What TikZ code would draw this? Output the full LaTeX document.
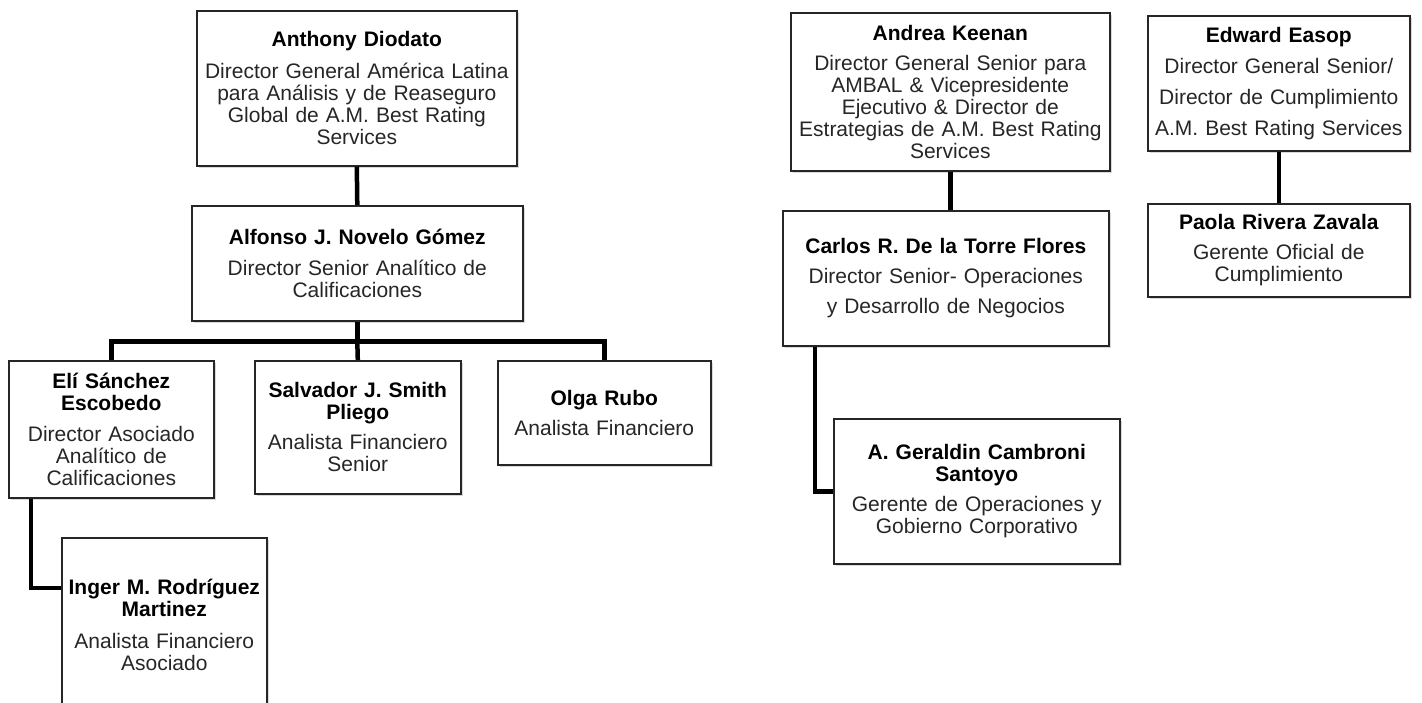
\documentclass[tikz,border=0pt]{standalone}
\usepackage{fontspec}
\setmainfont{Liberation Sans}
\usepackage{tikz}
\usetikzlibrary{positioning,shadows}
\tikzset{
every picture/.style={x=1pt,y=-1pt},
box/.style={rectangle, draw=black!85, line width=1.6pt, fill=white, text=black!85,
  anchor=north west, align=center, inner xsep=0pt, inner ysep=0pt,
  font=\fontsize{21}{22}\selectfont,
  drop shadow={shadow xshift=2pt, shadow yshift=-2pt, opacity=.3}},
link/.style={line width=4.5pt, black}
}
\newcommand{\who}[3][10pt]{\textbf{\color{black}#2}\\[#1]#3}

\begin{document}
\begin{tikzpicture}
\useasboundingbox (0,0) rectangle (1422,703);
%Nodes left
\node[box, text width=320pt, minimum height=155pt] (anthony) at (196,10)
  {\who{Anthony Diodato}{Director General América Latina\\para Análisis y de Reaseguro\\Global de A.M. Best Rating\\Services}};
\node[box, text width=331pt, minimum height=115pt] (alfonso) at (191,205)
  {\who[9pt]{Alfonso J. Novelo Gómez}{Director Senior Analítico de\\Calificaciones}};
\node[box, text width=205pt, minimum height=137pt] (eli) at (8,360)
  {\who[9pt]{Elí Sánchez\\Escobedo}{Director Asociado\\Analítico de\\Calificaciones}};
\node[box, text width=206pt, minimum height=133pt] (salvador) at (254,360)
  {\who[8pt]{Salvador J. Smith\\Pliego}{Analista Financiero\\Senior}};
\node[box, text width=213pt, minimum height=104pt] (olga) at (497,360)
  {\who[8pt]{Olga Rubo}{Analista Financiero}};
\node[box, text width=205pt, minimum height=175pt] (inger) at (61,537)
  {\who[10pt]{Inger M. Rodríguez\\Martinez}{Analista Financiero\\Asociado}};

%Nodes right
\node[box, text width=319pt, minimum height=158pt] (andrea) at (790,12)
  {\who[8pt]{Andrea Keenan}{Director General Senior para\\AMBAL \& Vicepresidente\\Ejecutivo \& Director de\\Estrategias de A.M. Best Rating\\Services}};
\node[box, text width=262pt, minimum height=135pt] (edward) at (1147,15)
  {\who[9pt]{Edward Easop}{Director General Senior/\\[9pt]Director de Cumplimiento\\[9pt]A.M. Best Rating Services}};
\node[box, text width=326pt, minimum height=135pt] (carlos) at (782,210)
  {\who[8pt]{Carlos R. De la Torre Flores}{Director Senior- Operaciones\\[8pt]y Desarrollo de Negocios}};
\node[box, text width=262pt, minimum height=93pt] (paola) at (1147,203)
  {\who[8pt]{Paola Rivera Zavala}{Gerente Oficial de\\Cumplimiento}};
\node[box, text width=286pt, minimum height=145pt] (geraldin) at (833,418)
  {\who[8pt]{A. Geraldin Cambroni\\Santoyo}{Gerente de Operaciones y\\Gobierno Corporativo}};

%Lines
\draw[link] (anthony.south) -- (alfonso.north);
\draw[link] (alfonso.south) -- ++(0,20) coordinate (bus);
\draw[link] (bus) -| (eli.north);
\draw[link] (bus) -- (salvador.north);
\draw[link] (bus) -| (olga.north);
\draw[link] ([xshift=23pt]eli.south west) |- ([yshift=-51pt]inger.north west);
\draw[link] (andrea.south) -- (andrea.south |- carlos.north);
\draw[link] (edward.south) -- (paola.north);
\draw[link] ([xshift=33pt]carlos.south west) |- (geraldin.west);
\end{tikzpicture}
\end{document}
